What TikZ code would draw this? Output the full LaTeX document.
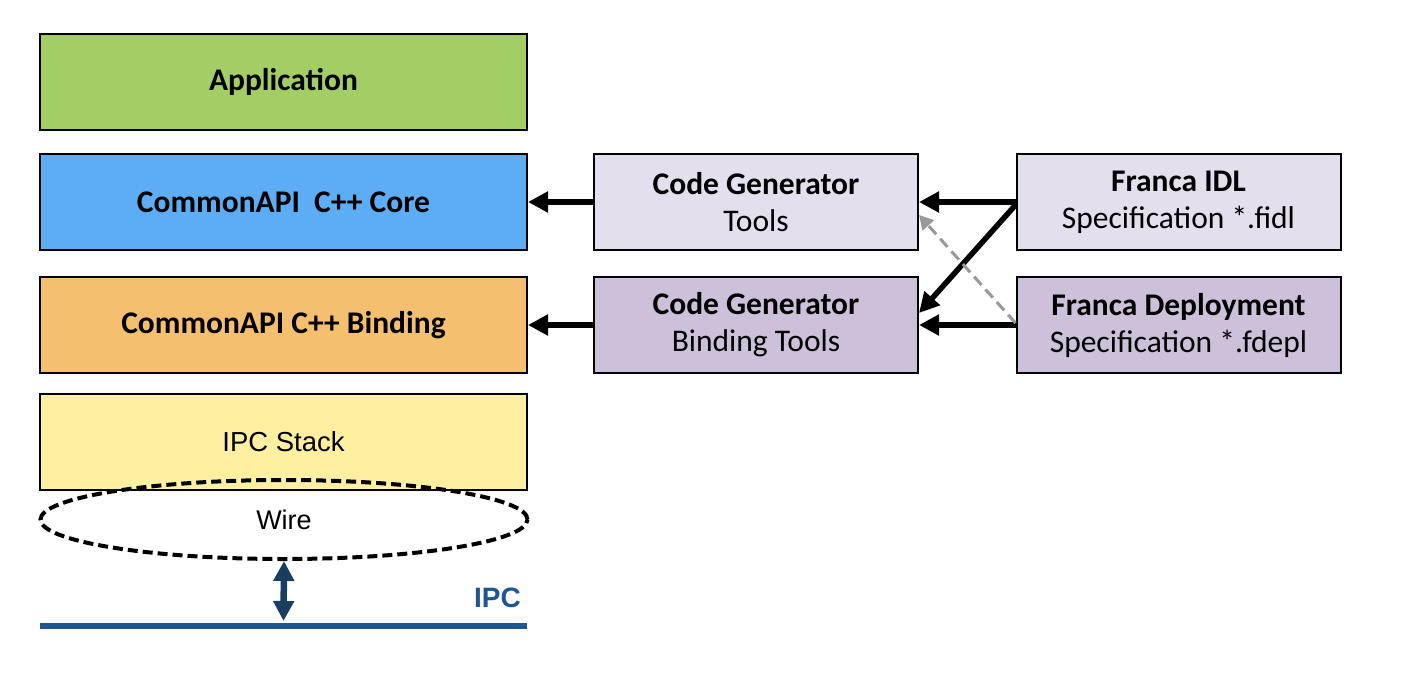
\documentclass[tikz,border=0pt]{standalone}
\usepackage{fontspec}
\setmainfont{Carlito}
\newfontfamily\arialf{Liberation Sans}
\usetikzlibrary{arrows.meta,shapes.geometric}
\definecolor{appgreen}{HTML}{A3CD65}
\definecolor{coreblue}{HTML}{5DADF5}
\definecolor{bindorange}{HTML}{F4BF6E}
\definecolor{ipcyellow}{HTML}{FEF0A0}
\definecolor{lav1}{HTML}{E4DFEC}
\definecolor{lav2}{HTML}{CCC0DA}
\definecolor{ipcblue}{HTML}{1F5591}
\definecolor{navy}{HTML}{1A3D62}
\tikzset{
  layer/.style={draw=black, line width=2pt, minimum width=487pt, minimum height=96pt, inner sep=0pt, font=\fontsize{31.5}{37}\selectfont\bfseries},
  tool/.style={draw=black, line width=2pt, minimum width=324pt, minimum height=96pt, inner sep=0pt, align=center, font=\fontsize{31.5}{37}\selectfont},
  bigarrow/.style={line width=6.5pt, -{Triangle[length=20pt,width=20pt]}},
}
\begin{document}
\begin{tikzpicture}[x=1pt,y=-1pt]
\useasboundingbox (0,0) rectangle (1408,698);
\node[layer, fill=appgreen] (app) at (283.5,82) {Application};
\node[layer, fill=coreblue] (core) at (283.5,202) {CommonAPI\ \ C++ Core};
\node[layer, fill=bindorange] (bind) at (283.5,325) {CommonAPI C++ Binding};
\node[layer, fill=ipcyellow, font=\arialf\fontsize{27.5}{32}\selectfont] (ipc) at (283.5,441.5) {IPC Stack};
\node[draw=black, dashed, dash pattern=on 10pt off 5pt, line width=4pt, ellipse, minimum width=487pt, minimum height=79pt, inner sep=0pt, font=\arialf\fontsize{27}{32}\selectfont] (wire) at (284,519.5) {Wire};
\coordinate (lineL) at (40,626);
\coordinate (lineR) at (527,626);
\draw[ipcblue, line width=6pt] (lineL) -- (lineR);
\node[text=ipcblue, font=\arialf\bfseries\fontsize{28}{32}\selectfont, anchor=east, inner sep=0pt] (ipclabel) at (521,598) {IPC};
\coordinate (lineT) at (283.5,621);
\draw[navy, line width=6.5pt, {Triangle[length=20pt,width=20pt]}-{Triangle[length=20pt,width=20pt]}] (wire.south) -- (lineT);

\node[tool, fill=lav1] (cgt) at (756,202) {\textbf{Code Generator}\\Tools};
\node[tool, fill=lav2] (cgb) at (756,325) {\textbf{Code Generator}\\Binding Tools};
\node[tool, fill=lav1] (fidl) at (1178.5,202) {\textbf{Franca IDL}\\Specification *.fidl};
\node[tool, fill=lav2] (fdep) at (1178.5,325) {\textbf{Franca Deployment}\\Specification *.fdepl};

\draw[bigarrow] (cgt.west) -- (core.east);
\draw[bigarrow] (cgb.west) -- (bind.east);
\draw[bigarrow] (fidl.west) -- (cgt.east);
\draw[bigarrow] (fdep.west) -- (cgb.east);
\draw[line width=5.5pt, -{Triangle[length=20pt,width=20pt]}] ([yshift=-3pt]fidl.west) -- ([yshift=12pt]cgb.east);
\draw[gray!80, line width=3pt, dashed, dash pattern=on 11pt off 6pt, -{Triangle[length=14pt,width=15pt]}] ([yshift=2pt]fdep.west) -- ([yshift=-13pt]cgt.east);
\end{tikzpicture}
\end{document}
